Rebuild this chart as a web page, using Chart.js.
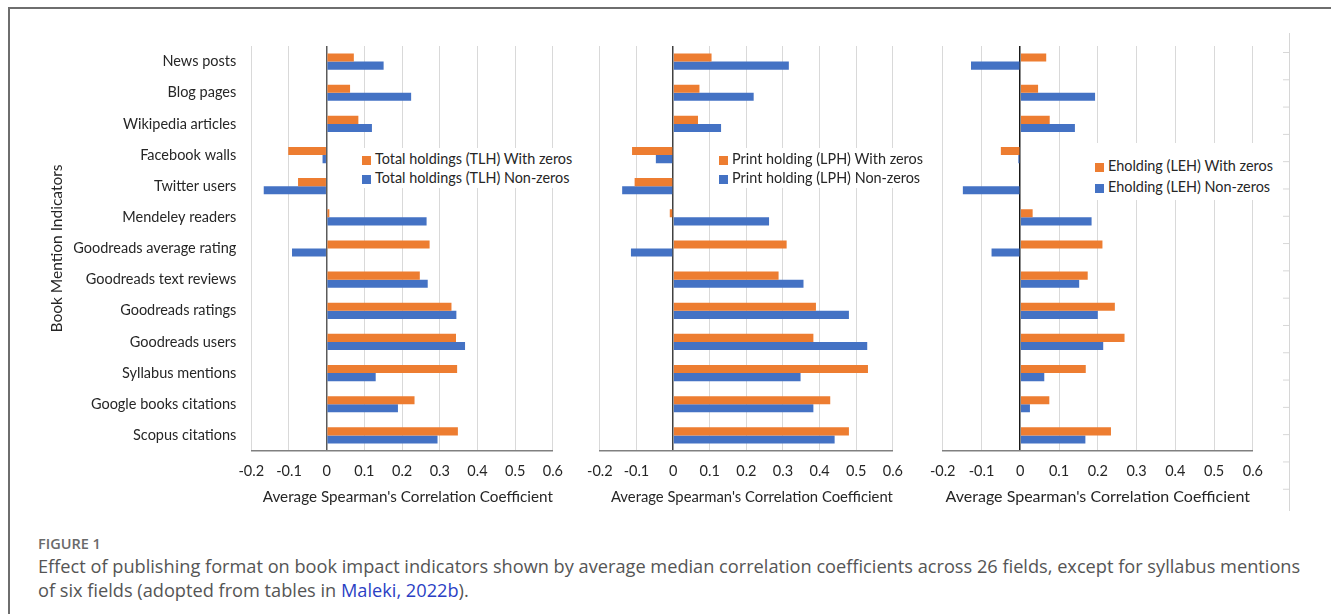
<!DOCTYPE html>
<html>
<head>
<meta charset="utf-8">
<script src="https://cdn.jsdelivr.net/npm/chart.js@4.4.0/dist/chart.umd.min.js"></script>
<style>
  body { margin: 0; background: #fff; width: 1331px; height: 614px; position: relative; overflow: hidden; font-family: Lato, sans-serif; }
  .frame { position: absolute; left: 8px; top: 7px; width: 1400px; height: 700px; border-left: 2px solid #6e6e6e; border-top: 2px solid #6e6e6e; }
  canvas { position: absolute; top: 0; }
  .legend { position: absolute; background: #fff; font-size: 14.4px; color: #262626; }
  .legend .row { position: absolute; left: 0; white-space: nowrap; line-height: 16px; }
  .legend .sw { display: inline-block; width: 9px; height: 9px; margin-right: 4px; vertical-align: -1px; }
  .sideAxis { position: absolute; left: 1289px; top: 33px; height: 478px; border-left: 1.5px solid #d6d6d6; }
  .sideAxis .tk { position: absolute; left: -7px; top: 18.5px; width: 7px; height: 460px;
    background: linear-gradient(#d6d6d6 0 1.2px, transparent 1.2px) repeat-y; background-size: 7px 27.3px; }
  .capHead { position: absolute; left: 38px; top: 534px; font-family: "Open Sans", sans-serif; font-weight: 600; font-size: 14.5px; color: #6a6a6a; }
  .cap { position: absolute; left: 38px; top: 554px; font-family: "Open Sans", sans-serif; font-size: 18.2px; line-height: 24px; color: #555; white-space: nowrap; }
  .cap a { color: #2b3fc4; text-decoration: none; }
</style>
</head>
<body>
<div class="frame"></div>
<canvas id="tlhChart" width="575" height="515" style="left:0px"></canvas>
<canvas id="lphChart" width="340" height="515" style="left:575px"></canvas>
<canvas id="lehChart" width="360" height="515" style="left:915px"></canvas>

<div class="legend" style="left:362px; top:148px; width:216px; height:40px">
  <div class="row" style="top:3px"><span class="sw" style="background:#ED7D31"></span>Total holdings (TLH) With zeros</div>
  <div class="row" style="top:22px"><span class="sw" style="background:#4472C4"></span>Total holdings (TLH) Non-zeros</div>
</div>
<div class="legend" style="left:719px; top:148px; width:210px; height:40px">
  <div class="row" style="top:3px"><span class="sw" style="background:#ED7D31"></span>Print holding (LPH) With zeros</div>
  <div class="row" style="top:22px"><span class="sw" style="background:#4472C4"></span>Print holding (LPH) Non-zeros</div>
</div>
<div class="legend" style="left:1095px; top:143px; width:182px; height:57px">
  <div class="row" style="top:15px"><span class="sw" style="background:#ED7D31"></span>Eholding (LEH) With zeros</div>
  <div class="row" style="top:36px"><span class="sw" style="background:#4472C4"></span>Eholding (LEH) Non-zeros</div>
</div>

<div class="sideAxis"><div class="tk"></div></div>

<div class="capHead">FIGURE 1</div>
<div class="cap">Effect of publishing format on book impact indicators shown by average median correlation coefficients across 26 fields, except for syllabus mentions<br>of six fields (adopted from tables in <a>Maleki, 2022b</a>).</div>

<script>
const indicators = ['News posts', 'Blog pages', 'Wikipedia articles', 'Facebook walls', 'Twitter users',
  'Mendeley readers', 'Goodreads average rating', 'Goodreads text reviews', 'Goodreads ratings',
  'Goodreads users', 'Syllabus mentions', 'Google books citations', 'Scopus citations'];

const tlhWithZeros = [0.072, 0.062, 0.084, -0.102, -0.076, 0.007, 0.273, 0.247, 0.331, 0.343, 0.346, 0.233, 0.348];
const tlhNonZeros  = [0.151, 0.224, 0.120, -0.011, -0.167, 0.265, -0.092, 0.268, 0.344, 0.367, 0.130, 0.189, 0.294];
const lphWithZeros = [0.105, 0.072, 0.068, -0.112, -0.105, -0.009, 0.310, 0.288, 0.390, 0.383, 0.532, 0.429, 0.480];
const lphNonZeros  = [0.316, 0.220, 0.131, -0.047, -0.139, 0.262, -0.115, 0.356, 0.480, 0.530, 0.348, 0.383, 0.441];
const lehWithZeros = [0.067, 0.046, 0.076, -0.050, 0.000, 0.032, 0.212, 0.174, 0.244, 0.269, 0.169, 0.075, 0.234];
const lehNonZeros  = [-0.127, 0.193, 0.141, -0.005, -0.148, 0.184, -0.074, 0.152, 0.200, 0.214, 0.062, 0.025, 0.168];

const xMin = -0.2, xMax = 0.6, xStep = 0.1;
const xTitle = "Average Spearman's Correlation Coefficient";
const yTitle = 'Book Mention Indicators';

const textColor = '#262626';

// lead = extra space in front of the x title, the Excel titles sit a bit right of centre
function makePanel(id, withZeros, nonZeros, names, pad, showY, zeroColor, lead) {
  const ctx = document.getElementById(id).getContext('2d');
  new Chart(ctx, {
    type: 'bar',
    data: {
      labels: indicators,
      datasets: [
        { label: names[0], data: withZeros, backgroundColor: '#ED7D31' },
        { label: names[1], data: nonZeros, backgroundColor: '#4472C4' }
      ]
    },
    options: {
      indexAxis: 'y',
      responsive: false,
      animation: false,
      layout: { padding: pad },
      datasets: { bar: { categoryPercentage: 0.52, barPercentage: 1 } },
      plugins: { legend: { display: false }, tooltip: { enabled: false } },
      scales: {
        x: {
          min: xMin, max: xMax,
          ticks: {
            stepSize: xStep, padding: 12, color: textColor,
            font: { family: 'Lato', size: 14.5 },
            callback: v => String(Math.round(v * 10) / 10)
          },
          grid: {
            drawTicks: false,
            color: c => Math.abs(c.tick.value) < 1e-9 ? zeroColor : '#d9d9d9',
            lineWidth: c => Math.abs(c.tick.value) < 1e-9 ? 1.5 : 1
          },
          border: { color: '#808080', width: 1.5 },
          title: { display: true, text: lead + xTitle, color: textColor, font: { family: 'Lato', size: 16 }, padding: { top: 3, bottom: 9 } },
          afterFit: s => { s.height = 64; }
        },
        y: {
          display: showY,
          grid: { display: false },
          border: { display: false },
          ticks: { padding: 7, color: textColor, font: { family: 'Lato', size: 14.5 } },
          title: { display: showY, text: yTitle, color: textColor, font: { family: 'Lato', size: 15.5 } },
          afterFit: s => { s.width = showY ? 207.3 : 0; }
        }
      }
    }
  });
}

document.addEventListener('DOMContentLoaded', () => {
  makePanel('tlhChart', tlhWithZeros, tlhNonZeros, ['Total holdings (TLH) With zeros', 'Total holdings (TLH) Non-zeros'],
    { left: 44, right: 20, top: 46, bottom: 0 }, true, '#5a5a5a', '\u2003');
  makePanel('lphChart', lphWithZeros, lphNonZeros, ['Print holding (LPH) With zeros', 'Print holding (LPH) Non-zeros'],
    { left: 23.3, right: 15.7, top: 46, bottom: 0 }, false, '#404040', '\u2003');
  makePanel('lehChart', lehWithZeros, lehNonZeros, ['Eholding (LEH) With zeros', 'Eholding (LEH) Non-zeros'],
    { left: 27.7, right: 20.3, top: 46, bottom: 0 }, false, '#1a1a1a', '');
});
</script>
</body>
</html>
